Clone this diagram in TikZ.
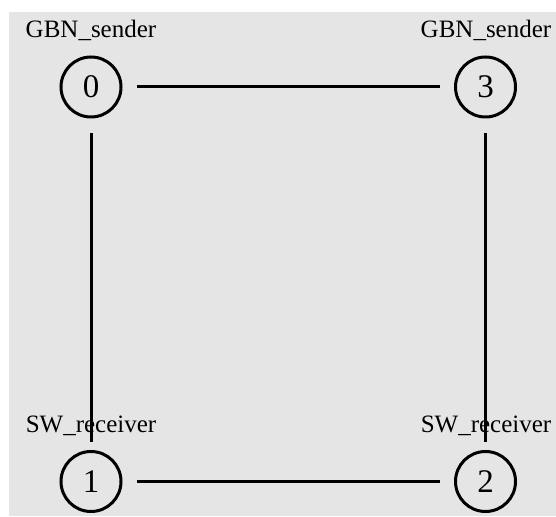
\documentclass[tikz,border=0pt]{standalone}
\usepackage{fontspec}
\setmainfont{Liberation Serif}
\begin{document}
\begin{tikzpicture}[x=1pt,y=1pt,
  vert/.style={circle,draw=black,line width=3pt,minimum size=60pt,inner sep=0pt,font=\fontsize{33}{36}\selectfont},
  lbl/.style={anchor=base,inner sep=0pt,font=\fontsize{25}{28}\selectfont},
  edge/.style={line width=3pt,black}]
\useasboundingbox (0,0) rectangle (556,516);
\fill[gray!20] (9,0) rectangle (556,504);
\node[vert] (n0) at (91,429) {0};
\node[vert] (n3) at (485.5,429) {3};
\node[vert] (n1) at (91,34.5) {1};
\node[vert] (n2) at (485.5,34.5) {2};
\node[lbl] (l0) at (91,478) {GBN\_sender};
\node[lbl] (l3) at (486,478) {GBN\_sender};
\node[lbl] (l1) at (91,83) {SW\_receiver};
\node[lbl] (l2) at (486,83) {SW\_receiver};
\draw[edge,shorten <=14pt,shorten >=14pt] (n0) -- (n3);
\draw[edge,shorten <=14pt,shorten >=14pt] (n1) -- (n2);
\draw[edge,shorten <=15pt,shorten >=8pt] (n0) -- (n1);
\draw[edge,shorten <=15pt,shorten >=8pt] (n3) -- (n2);
\end{tikzpicture}
\end{document}
